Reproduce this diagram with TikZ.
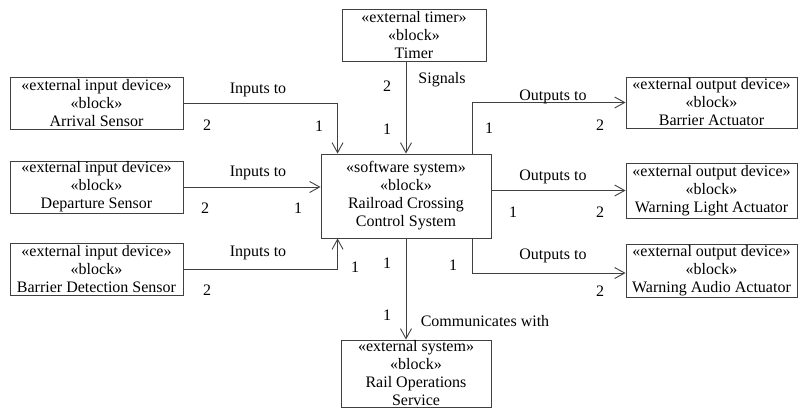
\documentclass[tikz,border=0pt]{standalone}
\usepackage{fontspec}
\setmainfont{Liberation Serif}
\usetikzlibrary{arrows.meta}
\begin{document}
\begin{tikzpicture}[x=1pt,y=-1pt,
  every node/.style={font=\fontsize{16}{18}\selectfont},
  blockbox/.style={draw=black!75, line width=0.9pt, inner sep=0pt, align=center},
  assoc/.style={draw=black!75, line width=0.9pt, -{Straight Barb[length=10pt,width=11pt,line width=0.9pt]}},
  lbl/.style={inner sep=0pt, anchor=center}]
\useasboundingbox (0,0) rectangle (798,408);

% blocks
\node[blockbox, minimum width=173pt, minimum height=52pt] (arr) at (96.5,103)
  {«external input device»\\«block»\\Arrival Sensor};
\node[blockbox, minimum width=173pt, minimum height=52pt] (dep) at (96.5,187)
  {«external input device»\\«block»\\Departure Sensor};
\node[blockbox, minimum width=173pt, minimum height=52pt] (bds) at (96.5,269)
  {«external input device»\\«block»\\Barrier Detection Sensor};
\node[blockbox, minimum width=144pt, minimum height=52pt] (tim) at (414,35)
  {«external timer»\\«block»\\Timer};
\node[blockbox, minimum width=170pt, minimum height=84pt] (sys) at (406,196)
  {«software system»\\«block»\\Railroad Crossing\\Control System};
\node[blockbox, minimum width=171pt, minimum height=51pt] (bact) at (711.5,102.5)
  {«external output device»\\«block»\\Barrier Actuator};
\node[blockbox, minimum width=171pt, minimum height=55pt] (wla) at (711.5,190.5)
  {«external output device»\\«block»\\Warning Light Actuator};
\node[blockbox, minimum width=171pt, minimum height=53pt] (waa) at (711.5,270.5)
  {«external output device»\\«block»\\Warning Audio Actuator};
\node[blockbox, minimum width=150pt, minimum height=67pt] (ros) at (416,373.5)
  {«external system»\\«block»\\Rail Operations\\Service};

% associations
\draw[assoc] (arr.east) -| ([xshift=17pt]sys.north west);
\draw[assoc] (dep.east) -- (dep.east -| sys.west);
\draw[assoc] (bds.east) -| ([xshift=17pt]sys.south west);
\draw[assoc] (sys.north |- tim.south) -- (sys.north);
\draw[assoc] ([xshift=-19pt]sys.north east) |- (bact.west);
\draw[assoc] (sys.east |- wla.west) -- (wla.west);
\draw[assoc] ([xshift=-19pt]sys.south east) |- ([yshift=-2.5pt]waa.west);
\draw[assoc] (sys.south) -- (sys.south |- ros.north);

% association labels
\node[lbl] (l1) at (258,90) {Inputs to};
\node[lbl] (l2) at (258,173) {Inputs to};
\node[lbl] (l3) at (258,253) {Inputs to};
\node[lbl] (l4) at (442,80) {Signals};
\node[lbl] (l5) at (553,97) {Outputs to};
\node[lbl] (l6) at (553,177) {Outputs to};
\node[lbl] (l7) at (553,256) {Outputs to};
\node[lbl] (l8) at (485,321) {Communicates with};

% multiplicities
\node[lbl] (m1) at (207,125) {2};
\node[lbl] (m2) at (319,126) {1};
\node[lbl] (m3) at (205,208) {2};
\node[lbl] (m4) at (298,208) {1};
\node[lbl] (m5) at (207,290) {2};
\node[lbl] (m6) at (355,267) {1};
\node[lbl] (m7) at (387,86) {2};
\node[lbl] (m8) at (387,129) {1};
\node[lbl] (m9) at (489,128) {1};
\node[lbl] (m10) at (600,125) {2};
\node[lbl] (m11) at (513,212) {1};
\node[lbl] (m12) at (600,212) {2};
\node[lbl] (m13) at (453,265) {1};
\node[lbl] (m14) at (600,291) {2};
\node[lbl] (m15) at (387,263) {1};
\node[lbl] (m16) at (387,315) {1};
\end{tikzpicture}
\end{document}
